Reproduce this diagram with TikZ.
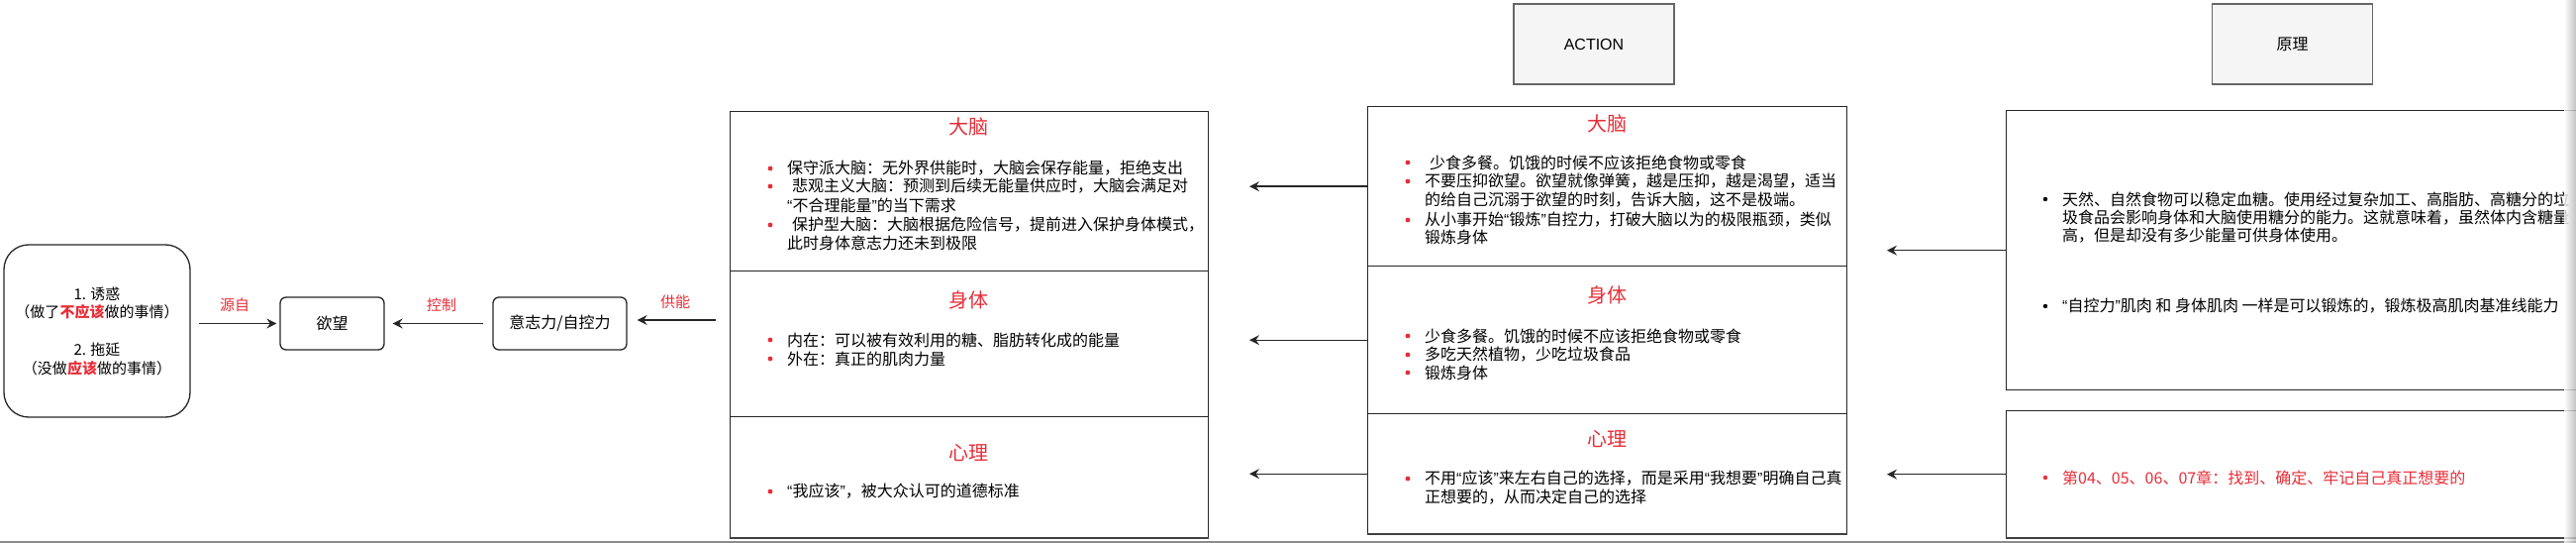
\documentclass[tikz,border=0pt]{standalone}
\usepackage{fontspec}
\setmainfont{Noto Sans CJK SC}
\newfontfamily\latinfont{Liberation Sans}
\usetikzlibrary{arrows.meta,positioning}

\definecolor{hred}{HTML}{E62E38}
\definecolor{headfill}{HTML}{F5F5F5}
\definecolor{headline}{HTML}{666666}

% virgolette strette
\newcommand\oq{{\latinfont “}}
\newcommand\cq{{\latinfont ”}}

\tikzset{
  arr/.style={-{Stealth[length=10pt,width=10pt,inset=3.5pt]}, line width=1.3pt, black!85},
  pill/.style={draw=black!85, line width=1.3pt, rounded corners=6pt, inner sep=0,
    minimum height=53pt, font=\fontsize{16}{19}\selectfont},
  cell/.style={draw=black!85, line width=1.3pt, anchor=north west, inner sep=0},
  headbox/.style={draw=headline, fill=headfill, line width=1.3pt, inner sep=0,
    minimum width=162pt, minimum height=81pt, font=\fontsize{16}{19}\selectfont},
  title/.style={text=hred, inner sep=0, font=\fontsize{20}{24}\selectfont},
  item/.style={anchor=west, inner sep=0, font=\fontsize{16}{19}\selectfont},
  tag/.style={text=hred, inner sep=0, font=\fontsize{15}{18}\selectfont}
}

\begin{document}
\begin{tikzpicture}[x=1pt,y=-1pt]
    \useasboundingbox (0,0) rectangle (2602,548);
    \clip (0,0) rectangle (2602,548);

    % Catena a sinistra
    \node[draw=black!85, line width=1.3pt, rounded corners=25pt, minimum width=188pt,
      minimum height=174pt, inner sep=0, align=center,
      font=\fontsize{15}{18.5}\selectfont] (tempt) at (98,334)
      {1. 诱惑\\（做了\textbf{\color{hred}不应该}做的事情）\\[19.5pt]
       2. 拖延\\（没做\textbf{\color{hred}应该}做的事情）};
    \node[pill, minimum width=105pt] (wish) at (335.5,326.5) {欲望};
    \node[pill, minimum width=135pt] (will) at (565.5,326.5) {意志力/自控力};
    \coordinate (feed) at (737,323);

    \draw[arr, shorten <=8pt, shorten >=3pt] (tempt.east |- wish.west) -- (wish.west);
    \draw[arr, shorten <=9pt, shorten >=8pt] (will.west) -- (wish.east);
    \draw[arr, shorten <=14pt, shorten >=10pt] (feed) -- (feed -| will.east);
    \node[tag] (fromlbl) at (237,308) {源自};
    \node[tag] (ctrllbl) at (446,308) {控制};
    \node[tag] (feedlbl) at (682,305) {供能};

    % Tabella sinistra
    \node[cell, minimum width=483pt, minimum height=161pt] (brainL) at (737,112) {};
    \node[cell, minimum width=483pt, minimum height=147pt] (bodyL) at (737,273) {};
    \node[cell, minimum width=483pt, minimum height=122pt] (mindL) at (737,420) {};
    \draw[line width=2.3pt, black!75] (mindL.south west) -- (mindL.south east);

    \node[title] (tbrainL) at (978,128) {大脑};
    \node[title] (tbodyL) at (978,303) {身体};
    \node[title] (tmindL) at (978,457) {心理};

    \foreach \y in {170,188,227,343,362,496}
      \fill[hred] (778,\y) circle (2.4pt);
    \foreach \y/\txt in {170/{保守派大脑：无外界供能时，大脑会保存能量，拒绝支出},
        188/{\hspace{5pt}悲观主义大脑：预测到后续无能量供应时，大脑会满足对},
        207/{\oq 不合理能量\cq 的当下需求},
        227/{\hspace{5pt}保护型大脑：大脑根据危险信号，提前进入保护身体模式，},
        245/{此时身体意志力还未到极限},
        343/{内在：可以被有效利用的糖、脂肪转化成的能量},
        362/{外在：真正的肌肉力量},
        496/{\oq 我应该\cq ，被大众认可的道德标准}}
      \node[item] (l-\y) at (795,\y) {\txt};

    % Colonna ACTION
    \node[headbox] (action) at (1610,44.5) {\latinfont ACTION};
    \node[cell, minimum width=484pt, minimum height=161pt] (brainA) at (1381,107) {};
    \node[cell, minimum width=484pt, minimum height=149pt] (bodyA) at (1381,268) {};
    \node[cell, minimum width=484pt, minimum height=121pt] (mindA) at (1381,417) {};
    \draw[line width=2.3pt, black!75] (mindA.south west) -- (mindA.south east);

    \node[title] (tbrainA) at (1623,125) {大脑};
    \node[title] (tbodyA) at (1623,298) {身体};
    \node[title] (tmindA) at (1623,443) {心理};

    \foreach \y in {164,183,222,339,358,376,483}
      \fill[hred] (1422,\y) circle (2.4pt);
    \foreach \y/\txt in {164/{\hspace{5pt}少食多餐。饥饿的时候不应该拒绝食物或零食},
        183/{不要压抑欲望。欲望就像弹簧，越是压抑，越是渴望，适当},
        202/{的给自己沉溺于欲望的时刻，告诉大脑，这不是极端。},
        222/{从小事开始\oq 锻炼\cq 自控力，打破大脑以为的极限瓶颈，类似},
        239/{锻炼身体},
        339/{少食多餐。饥饿的时候不应该拒绝食物或零食},
        358/{多吃天然植物，少吃垃圾食品},
        376/{锻炼身体},
        483/{不用\oq 应该\cq 来左右自己的选择，而是采用\oq 我想要\cq 明确自己真},
        502/{正想要的，从而决定自己的选择}}
      \node[item] (a-\y) at (1439,\y) {\txt};

    % frecce tra le tabelle
    \coordinate (tipL) at (1262,0);
    \draw[arr] (brainA.west) -- (brainA.west -| tipL);
    \draw[arr] (bodyA.west) -- (bodyA.west -| tipL);
    \draw[arr] (mindA.west) -- (mindA.west -| tipL);

    % Colonna 原理
    \node[headbox] (rule) at (2315.5,44.5) {原理};
    \node[cell, minimum width=700pt, minimum height=282pt] (ruleA) at (2026,111) {};
    \node[cell, minimum width=700pt, minimum height=128pt] (ruleB) at (2026,414) {};
    \draw[line width=2.3pt, black!75] (ruleB.south west) -- (ruleB.south east);

    \foreach \y in {201,309}
      \fill[black] (2066,\y) circle (2.2pt);
    \fill[hred] (2066,482) circle (2.2pt);
    \foreach \y/\txt in {201/{天然、自然食物可以稳定血糖。使用经过复杂加工、高脂肪、高糖分的垃},
        220/{圾食品会影响身体和大脑使用糖分的能力。这就意味着，虽然体内含糖量},
        238/{高，但是却没有多少能量可供身体使用。},
        309/{\oq 自控力\cq 肌肉 和 身体肌肉 一样是可以锻炼的，锻炼极高肌肉基准线能力}}
      \node[item] (r-\y) at (2083,\y) {\txt};
    \node[item, text=hred] (r-482) at (2083,482) {第04、05、06、07章：找到、确定、牢记自己真正想要的};

    \coordinate (tipA) at (1906,0);
    \draw[arr] (ruleA.west) -- (ruleA.west -| tipA);
    \draw[arr] (ruleB.west) -- (ruleB.west -| tipA);

    % bordo dello screenshot
    \fill[black!45] (0,545.5) rectangle (2602,548);
    \shade[left color=white, right color=black!30, opacity=0.8] (2590,0) rectangle (2602,548);
\end{tikzpicture}
\end{document}
